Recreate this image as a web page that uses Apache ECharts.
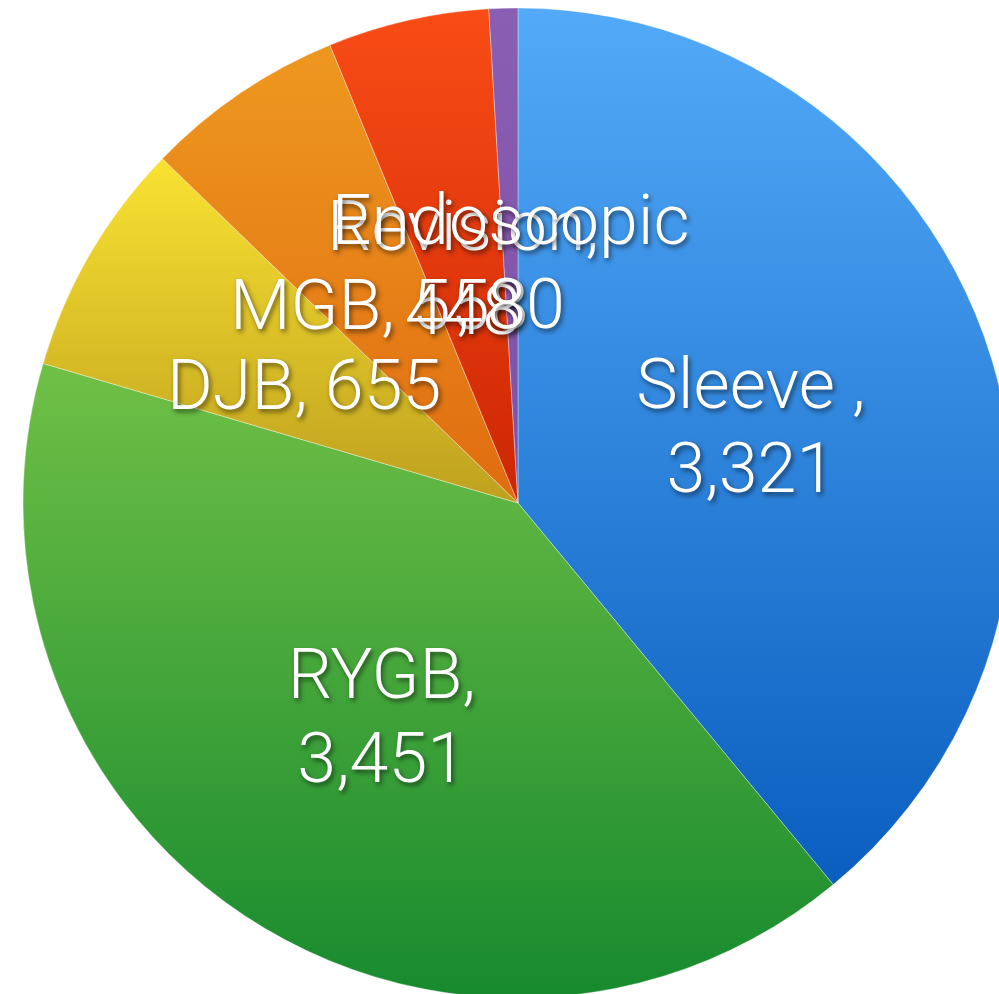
<!DOCTYPE html>
<html>
<head>
<meta charset="utf-8">
<script src="https://cdn.jsdelivr.net/npm/echarts@6/dist/echarts.min.js"></script>
<style>
html, body { margin: 0; padding: 0; background: #fff; }
#main-chart { width: 999px; height: 994px; }
</style>
</head>
<body>
<div id="main-chart"></div>
<script>
var names = ["Sleeve ", "RYGB", "DJB", "MGB", "Revision", "Endoscopic"];
var values = [3321, 3451, 655, 558, 448, 80];
var labelTexts = ["Sleeve ,\n3,321", "RYGB,\n3,451", "DJB, 655", "MGB, 558", "Revision,\n448", "Endoscopic\n, 80"];
var topColors = ["#53aaf8", "#70c046", "#fae232", "#ee9820", "#f94c16", "#8a5eb2"];
var bottomColors = ["#0a5ebf", "#178a2e", "#bea01e", "#e06c10", "#cc2604", "#7e50a6"];

var cx = 518, cy = 503, radius = 495;
var total = 0;
for (var k = 0; k < values.length; k++) total += values[k];

// mid angle of each slice, clockwise from 12 o'clock
function midAngle(idx) {
    var before = 0;
    for (var j = 0; j < idx; j++) before += values[j];
    return (before + values[idx] / 2) / total * Math.PI * 2;
}

var myChart = echarts.init(document.getElementById('main-chart'));
var pieData = [];
for (var i = 0; i < names.length; i++) {
    pieData.push({
        name: names[i],
        value: values[i],
        label: { formatter: labelTexts[i] },
        itemStyle: {
            color: new echarts.graphic.LinearGradient(0, 0, 0, 1, [
                { offset: 0, color: topColors[i] },
                { offset: 1, color: bottomColors[i] }
            ])
        }
    });
}
option = {
    animation: false,
    series: [{
        type: 'pie',
        center: [cx, cy],
        radius: radius,
        startAngle: 90,
        clockwise: true,
        avoidLabelOverlap: false,
        itemStyle: {
            borderColor: 'rgba(255,255,255,0.35)',
            borderWidth: 1
        },
        label: {
            show: true,
            position: 'outside',
            color: '#ffffff',
            fontFamily: 'Roboto',
            fontWeight: 300,
            fontSize: 70,
            lineHeight: 84,
            align: 'center',
            textShadowColor: 'rgba(0,0,0,0.55)',
            textShadowBlur: 5,
            textShadowOffsetX: 2,
            textShadowOffsetY: 3
        },
        labelLine: { show: false },
        // put every label halfway along the radius, like an inside label
        labelLayout: function(params) {
            var a = midAngle(params.dataIndex);
            return {
                x: cx + radius / 2 * Math.sin(a),
                y: cy - radius / 2 * Math.cos(a) + 13,
                align: 'center',
                verticalAlign: 'middle'
            };
        },
        data: pieData
    }]
};
myChart.setOption(option);
</script>
</body>
</html>
